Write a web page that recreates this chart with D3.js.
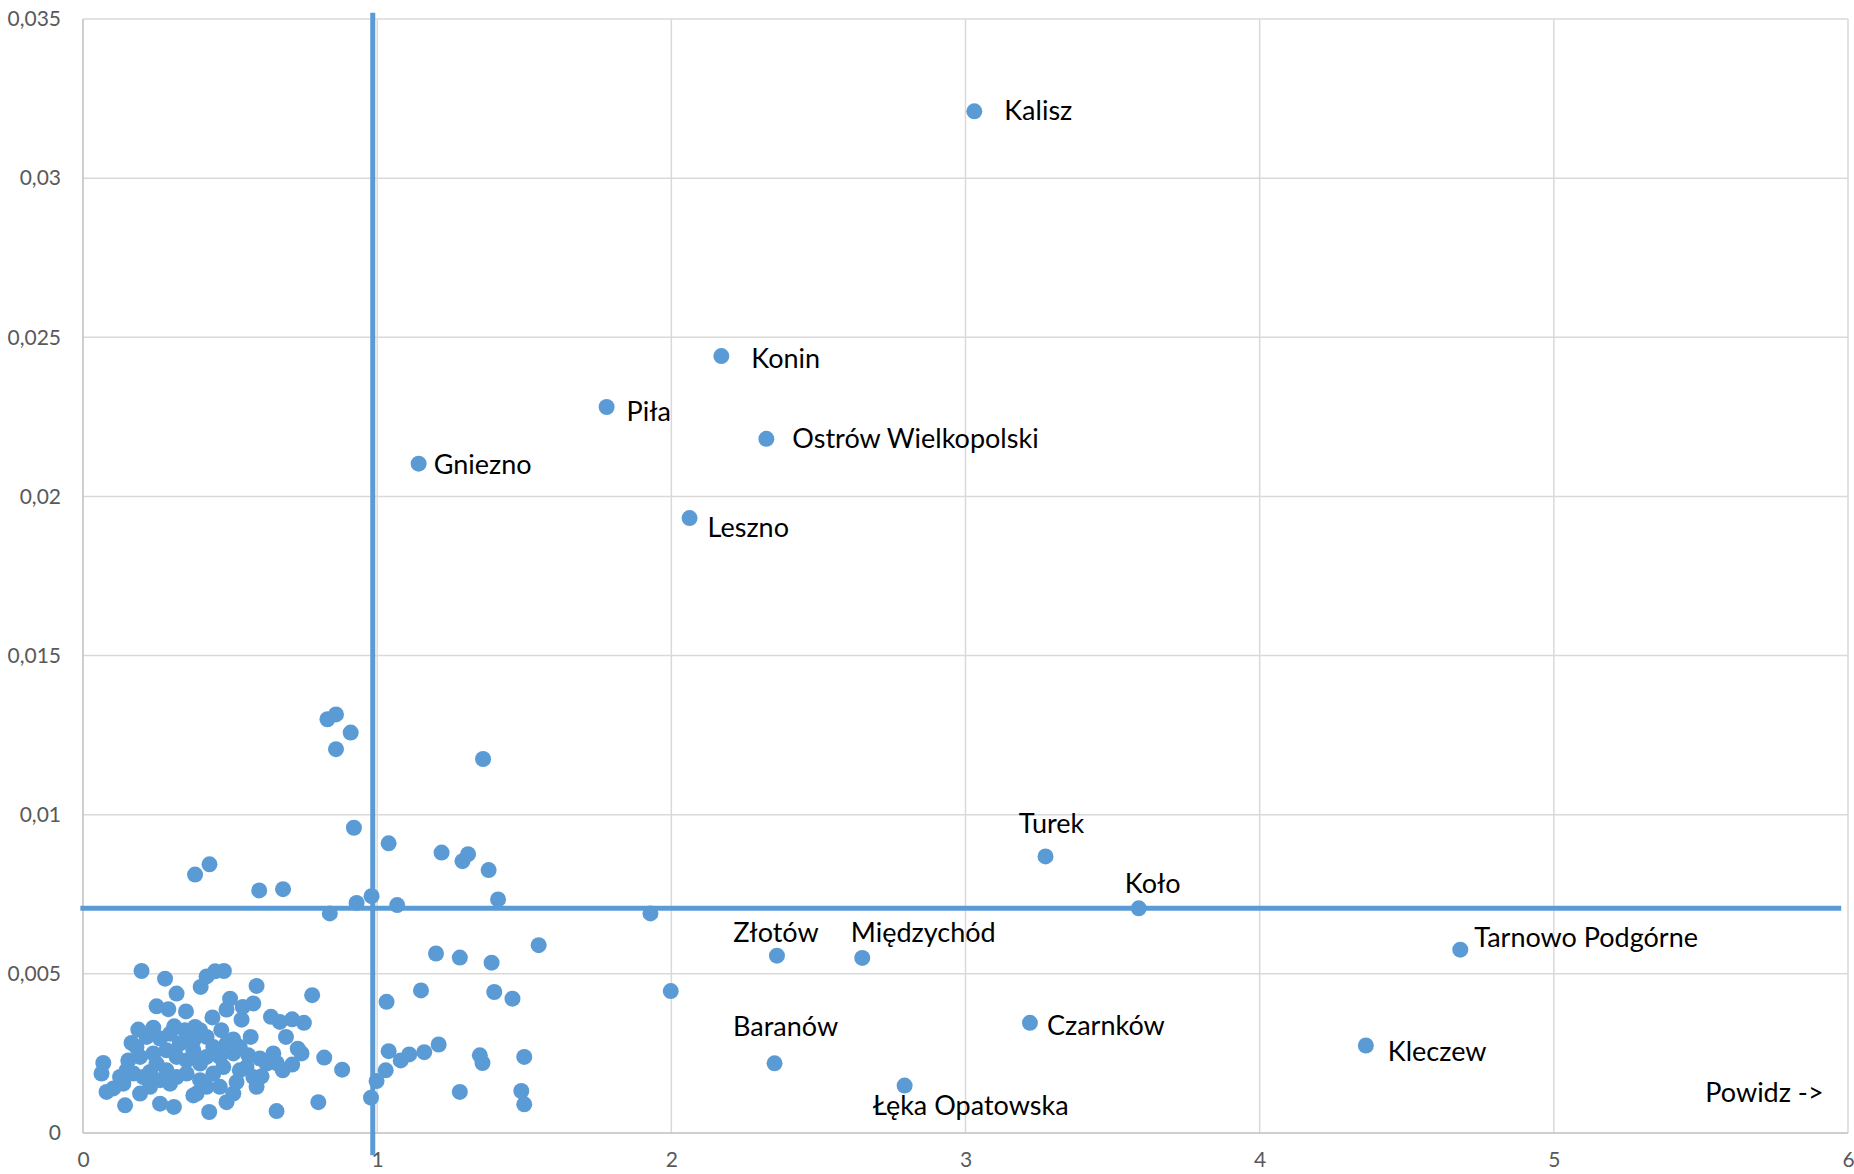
<!DOCTYPE html>
<html>
<head>
<meta charset="utf-8">
<script src="https://cdn.jsdelivr.net/npm/d3@7"></script>
<style>
  html, body { margin: 0; padding: 0; background: #ffffff; }
  svg { display: block; }
</style>
</head>
<body>
<svg id="chart" width="1854" height="1174"></svg>
<script>
// ---------- DATA ----------
const xTicks = [0, 1, 2, 3, 4, 5, 6];
const xTickLabels = ["0", "1", "2", "3", "4", "5", "6"];
const yTicks = [0, 0.005, 0.01, 0.015, 0.02, 0.025, 0.03, 0.035];
const yTickLabels = ["0", "0,005", "0,01", "0,015", "0,02", "0,025", "0,03", "0,035"];

// labelled communes
const namedLabels = ["Kalisz", "Konin", "Piła", "Ostrów Wielkopolski", "Gniezno", "Leszno",
  "Turek", "Koło", "Złotów", "Międzychód", "Tarnowo Podgórne", "Baranów", "Czarnków",
  "Kleczew", "Łęka Opatowska"];
const namedX = [3.03, 2.17, 1.78, 2.323, 1.141, 2.062, 3.272, 3.589, 2.359, 2.649, 4.682, 2.351, 3.219, 4.361, 2.793];
const namedY = [0.0321, 0.02441, 0.02281, 0.02181, 0.02103, 0.01932, 0.00869, 0.00706, 0.00557, 0.0055, 0.00576, 0.00219, 0.00346, 0.00275, 0.00149];

// unlabelled communes [x, y]
const otherPoints = [
  [0.831,0.0130],[0.86,0.01315],[0.91,0.01258],[0.86,0.01206],[1.36,0.01175],[0.921,0.00959],
  [1.039,0.0091],[1.219,0.00881],[1.29,0.00854],[1.309,0.00876],[1.379,0.00826],[1.411,0.00734],
  [1.068,0.00716],[0.981,0.00744],[0.93,0.00723],[0.839,0.0069],[0.381,0.00812],[0.43,0.00844],
  [0.599,0.00762],[0.68,0.00766],[1.929,0.0069],[1.998,0.00446],
  [1.2,0.00564],[1.281,0.00551],[1.389,0.00535],[1.549,0.0059],[1.032,0.00412],[1.149,0.00448],
  [1.398,0.00443],[1.46,0.00422],[1.039,0.00257],[1.08,0.00228],[1.109,0.00247],[1.16,0.00254],
  [1.209,0.00278],[1.349,0.00244],[1.358,0.0022],[1.5,0.00239],[1.029,0.00197],[0.998,0.00163],
  [0.979,0.00111],[1.281,0.00129],[1.49,0.00132],[1.5,0.0009],[0.881,0.00199],[0.82,0.00237],
  [0.199,0.00509],[0.279,0.00485],[0.318,0.00438],[0.25,0.00398],[0.29,0.00389],[0.35,0.00382],
  [0.4,0.00459],[0.42,0.00492],[0.449,0.00508],[0.479,0.00509],[0.59,0.00462],[0.779,0.00433],
  [0.5,0.00422],[0.488,0.00388],[0.543,0.00396],[0.579,0.00407],[0.539,0.00356],[0.44,0.00363],
  [0.639,0.00365],[0.669,0.00349],[0.711,0.00357],[0.751,0.00346],[0.188,0.00325],[0.239,0.00331],
  [0.31,0.00335],[0.381,0.00333],[0.47,0.00323],[0.57,0.00302],[0.69,0.00302],[0.511,0.00294],
  [0.165,0.00283],[0.262,0.00297],[0.352,0.00302],[0.42,0.00302],[0.069,0.0022],[0.063,0.00187],
  [0.08,0.00129],[0.143,0.00087],[0.154,0.00228],[0.182,0.0027],[0.239,0.0025],[0.205,0.00176],
  [0.262,0.00092],[0.309,0.00082],[0.375,0.00118],[0.429,0.00066],[0.488,0.00097],[0.658,0.00069],
  [0.8,0.00097],[0.73,0.00265],[0.743,0.0025],[0.711,0.00215],[0.679,0.00197],[0.658,0.0022],
  [0.607,0.00178],[0.59,0.00145],[0.522,0.0016],[0.601,0.00234],[0.562,0.00244],[0.511,0.0025],
  [0.443,0.0027],[0.375,0.0026],[0.318,0.00239],[0.284,0.00197],[0.228,0.00145],[0.137,0.00155],
  [0.103,0.0014],[0.194,0.00124],[0.296,0.00155],[0.352,0.00187],[0.398,0.00166],[0.443,0.00187],
  [0.477,0.00207],[0.533,0.00197],[0.398,0.00218],[0.352,0.00228],[0.42,0.00145],[0.386,0.00124],
  [0.465,0.00145],[0.511,0.00124],[0.262,0.00166],[0.318,0.00176],[0.228,0.00192],[0.171,0.00187],
  [0.126,0.00176],[0.25,0.00218],[0.284,0.0026],[0.329,0.00281],[0.375,0.00291],[0.42,0.00239],
  [0.465,0.00239],[0.488,0.00281],[0.533,0.0027],[0.624,0.00218],[0.647,0.0025],[0.579,0.00176],
  [0.556,0.00207],[0.346,0.00323],[0.398,0.00323],[0.296,0.00312],[0.216,0.00302],[0.194,0.00239],
  [0.148,0.00197]
];

// reference (mean) lines
const meanX = 0.985;
const meanXSpan = [-0.0007, 0.0352];
const meanY = 0.00706;
const meanYSpan = [-0.009, 5.977];

// annotation
const noteText = "Powidz ->";
const noteX = 5.515;
const noteY = 0.00131;

// ---------- LAYOUT ----------
const labelLayout = {
  "Kalisz": {a: "start", dx: 30, dy: -2},
  "Konin": {a: "start", dx: 30, dy: 1},
  "Piła": {a: "start", dx: 20, dy: 4},
  "Ostrów Wielkopolski": {a: "start", dx: 26, dy: -1},
  "Gniezno": {a: "start", dx: 15, dy: 0},
  "Leszno": {a: "start", dx: 18, dy: 8},
  "Turek": {a: "middle", dx: 6, dy: -34},
  "Koło": {a: "middle", dx: 14, dy: -26},
  "Złotów": {a: "middle", dx: -1, dy: -24},
  "Międzychód": {a: "middle", dx: 61, dy: -26},
  "Tarnowo Podgórne": {a: "start", dx: 14, dy: -13},
  "Baranów": {a: "middle", dx: 11, dy: -38},
  "Czarnków": {a: "start", dx: 17, dy: 2},
  "Kleczew": {a: "start", dx: 22, dy: 5},
  "Łęka Opatowska": {a: "middle", dx: 66, dy: 19}
};

const blue = "#5B9BD5";
const plotLeft = 83, plotRight = 1848, plotTop = 19, plotBottom = 1133;
const dotR = 8;

const svg = d3.select("#chart");
const x = d3.scaleLinear().domain([0, 6]).range([plotLeft, plotRight]);
const y = d3.scaleLinear().domain([0, 0.035]).range([plotBottom, plotTop]);

// gridlines
svg.append("g").selectAll("line").data(yTicks.slice(1)).join("line")
  .attr("x1", plotLeft).attr("x2", plotRight)
  .attr("y1", d => y(d)).attr("y2", d => y(d))
  .attr("stroke", "#d9d9d9").attr("stroke-width", 1.5);
svg.append("g").selectAll("line").data(xTicks.slice(1)).join("line")
  .attr("x1", d => x(d)).attr("x2", d => x(d))
  .attr("y1", plotTop).attr("y2", plotBottom)
  .attr("stroke", "#d9d9d9").attr("stroke-width", 1.5);
// axis lines
svg.append("line").attr("x1", plotLeft).attr("x2", plotLeft).attr("y1", plotTop).attr("y2", plotBottom)
  .attr("stroke", "#bfbfbf").attr("stroke-width", 1.5);
svg.append("line").attr("x1", plotLeft).attr("x2", plotRight).attr("y1", plotBottom).attr("y2", plotBottom)
  .attr("stroke", "#bfbfbf").attr("stroke-width", 1.5);

// axes (labels only)
const yAxis = d3.axisLeft(y).tickValues(yTicks)
  .tickFormat((d, i) => yTickLabels[i]).tickSize(0).tickPadding(22);
const gy = svg.append("g").attr("transform", `translate(${plotLeft},0)`).call(yAxis);
gy.select(".domain").remove();
gy.selectAll("text").attr("font-family", "Lato, sans-serif").attr("font-size", 21)
  .attr("fill", "#595959");

const xAxis = d3.axisBottom(x).tickValues(xTicks)
  .tickFormat((d, i) => xTickLabels[i]).tickSize(0).tickPadding(19);
const gx = svg.append("g").attr("transform", `translate(0,${plotBottom})`).call(xAxis);
gx.select(".domain").remove();
gx.selectAll("text").attr("font-family", "Lato, sans-serif").attr("font-size", 21)
  .attr("fill", "#595959");

// mean lines
svg.append("line")
  .attr("x1", x(meanX)).attr("x2", x(meanX))
  .attr("y1", y(meanXSpan[0])).attr("y2", y(meanXSpan[1]))
  .attr("stroke", blue).attr("stroke-width", 5);
svg.append("line")
  .attr("x1", x(meanYSpan[0])).attr("x2", x(meanYSpan[1]))
  .attr("y1", y(meanY)).attr("y2", y(meanY))
  .attr("stroke", blue).attr("stroke-width", 5);

// points
svg.append("g").selectAll("circle").data(otherPoints).join("circle")
  .attr("cx", d => x(d[0])).attr("cy", d => y(d[1])).attr("r", dotR)
  .attr("fill", blue);

const named = namedLabels.map((n, i) => ({name: n, x: namedX[i], y: namedY[i]}));
svg.append("g").selectAll("circle").data(named).join("circle")
  .attr("cx", d => x(d.x)).attr("cy", d => y(d.y)).attr("r", dotR)
  .attr("fill", blue);

svg.append("g").selectAll("text").data(named).join("text")
  .attr("x", d => x(d.x) + labelLayout[d.name].dx)
  .attr("y", d => y(d.y) + labelLayout[d.name].dy)
  .attr("text-anchor", d => labelLayout[d.name].a)
  .attr("dominant-baseline", "central")
  .attr("font-family", "Lato, sans-serif").attr("font-size", 27)
  .attr("fill", "#000")
  .text(d => d.name);

svg.append("text")
  .attr("x", x(noteX)).attr("y", y(noteY))
  .attr("dominant-baseline", "central")
  .attr("font-family", "Lato, sans-serif").attr("font-size", 27)
  .attr("fill", "#000")
  .text(noteText);
</script>
</body>
</html>
